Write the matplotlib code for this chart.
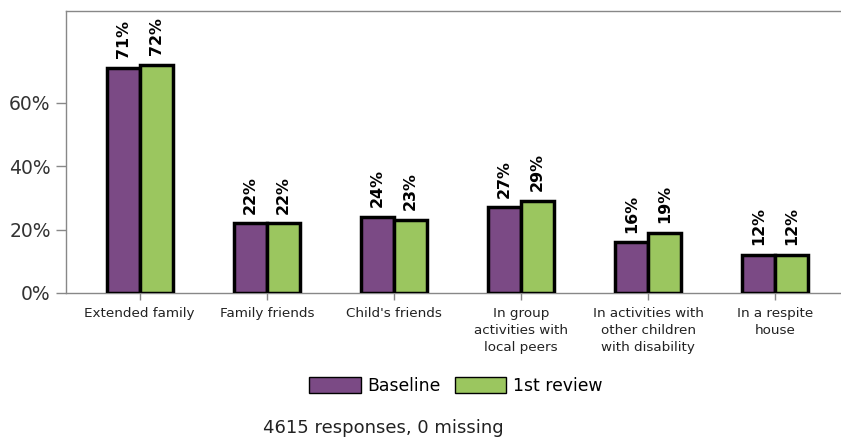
import matplotlib
matplotlib.use("Agg")
import matplotlib.pyplot as plt
import numpy as np
from matplotlib.patches import Patch

categories = ["Extended family", "Family friends", "Child's friends",
              "In group\nactivities with\nlocal peers",
              "In activities with\nother children\nwith disability",
              "In a respite\nhouse"]
baseline = [71, 22, 24, 27, 16, 12]
review = [72, 22, 23, 29, 19, 12]
series_names = ["Baseline", "1st review"]
yticks = [0, 20, 40, 60]

purple = "#7B4A85"
green = "#9BC65F"

fig = plt.figure(figsize=(8.41, 4.41), dpi=100)
ax = fig.add_axes([66/841, 148/441, (849-66)/841, (293-11)/441])

x = np.arange(len(categories))
w = 0.26
b1 = ax.bar(x - w/2, baseline, w, color=purple, edgecolor="black", linewidth=2.5, zorder=3)
b2 = ax.bar(x + w/2, review, w, color=green, edgecolor="black", linewidth=2.5, zorder=3)

for bars, vals in ((b1, baseline), (b2, review)):
    for rect, v in zip(bars, vals):
        ax.annotate(f"{v}%", (rect.get_x() + rect.get_width()/2, v),
                    xytext=(0, 7), textcoords="offset points",
                    rotation=90, ha="center", va="bottom",
                    fontsize=11.4, fontweight="bold", color="black")

ax.set_xlim(-0.58, 5.58)
ax.set_ylim(0, 89)
ax.set_yticks(yticks)
ax.set_yticklabels([f"{t}%" for t in yticks], fontsize=13.5, color="#333333")
ax.set_xticks(x)
ax.set_xticklabels(categories, fontsize=9.7, color="#222222", linespacing=1.4)
ax.tick_params(axis="y", length=7, color="#888888", width=1, pad=4)
ax.tick_params(axis="x", length=5, color="#888888", width=1, pad=5)
for s in ax.spines.values():
    s.set_color("#888888")
    s.set_linewidth(1)

handles = [Patch(facecolor=purple, edgecolor="black", linewidth=1),
           Patch(facecolor=green, edgecolor="black", linewidth=1)]
fig.legend(handles, series_names, loc="center", bbox_to_anchor=(456/841, 1 - 386/441),
           ncol=2, frameon=False, fontsize=12.4, handlelength=3.0, handleheight=1.1,
           handletextpad=0.4, columnspacing=0.8)

fig.text(263/841, 1 - 428/441, "4615 responses, 0 missing", fontsize=13,
         color="#222222", ha="left", va="center")

fig.savefig("out.png", dpi=100)
